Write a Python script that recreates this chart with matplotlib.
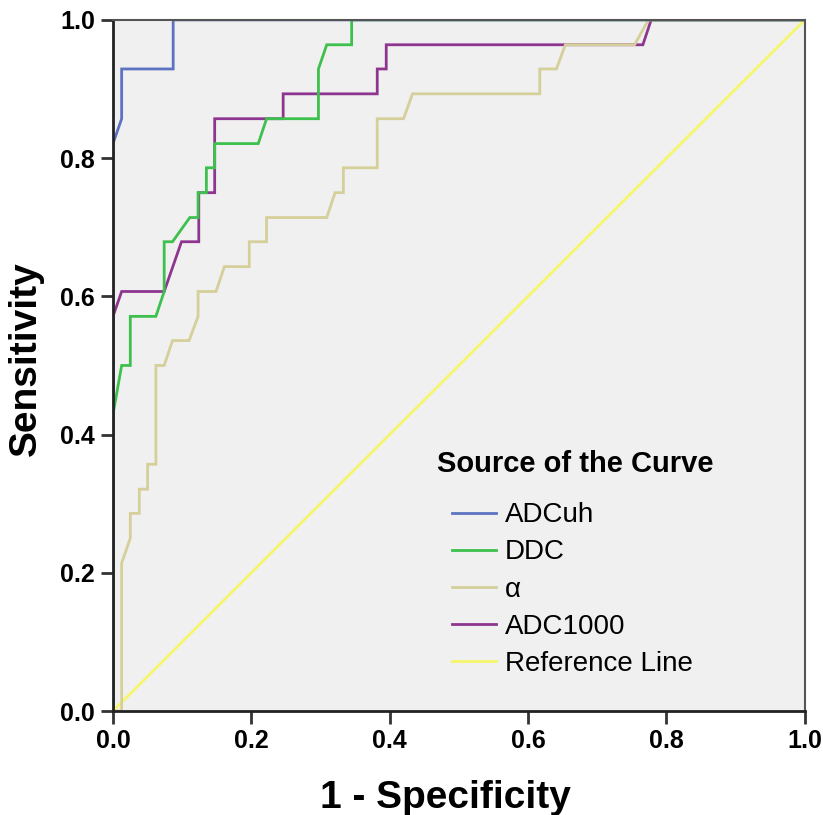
import matplotlib
matplotlib.use('Agg')
import matplotlib.pyplot as plt

# ROC coordinates (1 - specificity, sensitivity)
adcuh_x = [0, 0, 0.0125, 0.0125, 0.087, 0.087, 1]
adcuh_y = [0, 0.821, 0.857, 0.929, 0.929, 1.0, 1.0]

ddc_x = [0, 0, 0.0125, 0.025, 0.025, 0.062, 0.074, 0.074, 0.086, 0.111, 0.123, 0.123,
         0.135, 0.135, 0.147, 0.147, 0.210, 0.222, 0.297, 0.297, 0.309, 0.345, 0.345, 1]
ddc_y = [0, 0.429, 0.5, 0.5, 0.571, 0.571, 0.607, 0.679, 0.679, 0.714, 0.714, 0.75,
         0.75, 0.786, 0.786, 0.821, 0.821, 0.857, 0.857, 0.929, 0.964, 0.964, 1.0, 1.0]

alpha_x = [0, 0.0125, 0.0125, 0.025, 0.025, 0.038, 0.038, 0.050, 0.050, 0.062, 0.062,
           0.074, 0.086, 0.110, 0.123, 0.123, 0.149, 0.161, 0.197, 0.197, 0.222, 0.222,
           0.309, 0.321, 0.333, 0.333, 0.382, 0.382, 0.420, 0.433, 0.617, 0.617, 0.641,
           0.654, 0.754, 0.774, 1]
alpha_y = [0, 0, 0.214, 0.25, 0.286, 0.286, 0.321, 0.321, 0.357, 0.357, 0.5,
           0.5, 0.536, 0.536, 0.571, 0.607, 0.607, 0.643, 0.643, 0.679, 0.679, 0.714,
           0.714, 0.75, 0.75, 0.786, 0.786, 0.857, 0.857, 0.893, 0.893, 0.929, 0.929,
           0.964, 0.964, 1.0, 1.0]

adc1000_x = [0, 0, 0.0125, 0.074, 0.099, 0.124, 0.124, 0.147, 0.147, 0.246, 0.246,
             0.382, 0.382, 0.395, 0.395, 0.766, 0.778, 1]
adc1000_y = [0, 0.571, 0.607, 0.607, 0.679, 0.679, 0.75, 0.75, 0.857, 0.857, 0.893,
             0.893, 0.929, 0.929, 0.964, 0.964, 1.0, 1.0]

ref_x = [0, 1]
ref_y = [0, 1]

series = [
    ('ADCuh', adcuh_x, adcuh_y, '#5b73c0'),
    ('DDC', ddc_x, ddc_y, '#3dc04d'),
    ('\u03b1', alpha_x, alpha_y, '#d5cf9a'),
    ('ADC1000', adc1000_x, adc1000_y, '#8e3590'),
    ('Reference Line', ref_x, ref_y, '#f7f56a'),
]

plt.rcParams['font.family'] = ['Liberation Sans', 'DejaVu Sans']

fig = plt.figure(figsize=(8.23, 8.15), dpi=100)
ax = fig.add_axes([0.1373, 0.1276, 0.8405, 0.848])
ax.set_facecolor('#f0f0f0')

# reference line drawn first so curves sit on top
for name, xs, ys, color in reversed(series):
    ax.plot(xs, ys, color=color, lw=2, label=name, solid_joinstyle='miter')

ax.set_xlim(0, 1)
ax.set_ylim(0, 1)
ticks = [0, 0.2, 0.4, 0.6, 0.8, 1.0]
ax.set_xticks(ticks)
ax.set_yticks(ticks)
ax.set_xticklabels(['%.1f' % t for t in ticks], fontsize=18, fontweight='bold')
ax.set_yticklabels(['%.1f' % t for t in ticks], fontsize=18, fontweight='bold')
ax.tick_params(direction='out', length=9, width=2, color='#333333', pad=4)

for side in ['left', 'bottom']:
    ax.spines[side].set_color('#222222')
    ax.spines[side].set_linewidth(2)
for side in ['top', 'right']:
    ax.spines[side].set_color('#555555')
    ax.spines[side].set_linewidth(1.5)

ax.set_xlabel('1 - Specificity', fontsize=28, fontweight='bold')
ax.set_ylabel('Sensitivity', fontsize=28, fontweight='bold')
ax.xaxis.set_label_coords(0.481, -0.100)
ax.yaxis.set_label_coords(-0.10, 0.51)

# legend title placed separately: it sits left of the line handles
ax.text(0.468, 0.378, 'Source of the Curve', transform=ax.transAxes,
        fontsize=21, fontweight='bold', ha='left', va='top')

handles, labels = ax.get_legend_handles_labels()
leg = ax.legend(handles[::-1], labels[::-1], loc='upper left',
                bbox_to_anchor=(0.49, 0.302), frameon=False, fontsize=20,
                borderpad=0, borderaxespad=0,
                handlelength=1.6, handletextpad=0.3, labelspacing=0.4)

fig.savefig('out.png', dpi=100)
